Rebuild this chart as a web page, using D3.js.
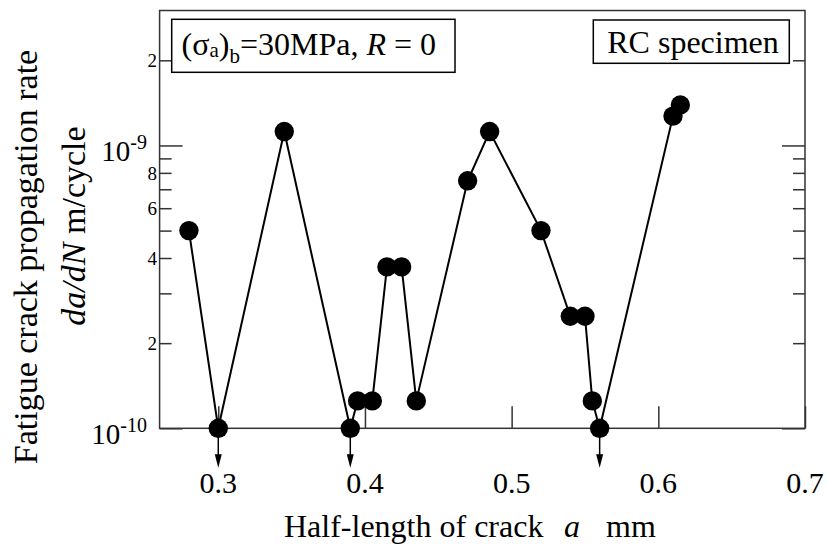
<!DOCTYPE html>
<html>
<head>
<meta charset="utf-8">
<script src="https://cdn.jsdelivr.net/npm/d3@7"></script>
<style>
  body { margin: 0; background: #fff; }
  svg text, svg tspan { font-family: "Liberation Serif", "Times New Roman", serif; }
</style>
</head>
<body>
<div class="chart"></div>
<script>
// crack half-length a (mm) and measured da/dN (m/cycle)
var crackLength = [0.280, 0.300, 0.345, 0.390, 0.395, 0.405, 0.415, 0.425, 0.435,
                   0.470, 0.485, 0.520, 0.540, 0.550, 0.555, 0.560, 0.610, 0.615];
var growthRate  = [5.0e-10, 1.0e-10, 1.12e-9, 1.0e-10, 1.25e-10, 1.25e-10, 3.72e-10, 3.72e-10, 1.25e-10,
                   7.5e-10, 1.12e-9, 5.0e-10, 2.49e-10, 2.49e-10, 1.25e-10, 1.0e-10, 1.27e-9, 1.39e-9];
// points that fell below the measurable rate (drawn with a down arrow)
var belowLimit  = [false, true, false, true, false, false, false, false, false,
                   false, false, false, false, false, false, true, false, false];

var xTicks = [0.3, 0.4, 0.5, 0.6, 0.7];
var xTickLabels = ["0.3", "0.4", "0.5", "0.6", "0.7"];
var yMajorTicks = [1e-10, 1e-9];
var yMajorExp = ["-10", "-9"];
var yMinorTicks = [2e-10, 3e-10, 4e-10, 5e-10, 6e-10, 7e-10, 8e-10, 9e-10, 2e-9];
var yMinorLabeled = [2e-10, 4e-10, 6e-10, 8e-10, 2e-9];
var yMinorLabels = ["2", "4", "6", "8", "2"];

var margin = {top: 10.5, right: 23, bottom: 115.7, left: 159.6};
var width = 828 - margin.left - margin.right;
var height = 544 - margin.top - margin.bottom;

var xScale = d3.scaleLinear().domain([0.26, 0.7]).range([0, width]);
var yScale = d3.scaleLog().domain([1e-10, 3e-9]).range([height, 0]);

var axisColor = "#333";
var serif = "Liberation Serif";

var svg = d3.select("div.chart").append("svg")
    .attr("width", 828)
    .attr("height", 544)
    .style("display", "block");

svg.append("rect").attr("width", 828).attr("height", 544).attr("fill", "#fff");

var g = svg.append("g")
    .attr("transform", "translate(" + margin.left + "," + margin.top + ")");

function styleAxis(sel){
  sel.select(".domain").remove();
  sel.selectAll(".tick line").attr("stroke", axisColor).attr("stroke-width", 1.5);
  sel.selectAll(".tick text").remove();
}

function drawAxes(){
  // bottom ticks, pointing inward
  g.append("g")
    .attr("transform", "translate(0," + height + ")")
    .call(d3.axisBottom(xScale).tickValues(xTicks).tickSize(-22))
    .call(styleAxis);

  // left + right major/minor ticks
  g.append("g").call(d3.axisLeft(yScale).tickValues(yMajorTicks).tickSize(-23)).call(styleAxis);
  g.append("g").call(d3.axisLeft(yScale).tickValues(yMinorTicks).tickSize(-12)).call(styleAxis);
  g.append("g").attr("transform", "translate(" + width + ",0)")
    .call(d3.axisRight(yScale).tickValues(yMajorTicks).tickSize(-23)).call(styleAxis);
  g.append("g").attr("transform", "translate(" + width + ",0)")
    .call(d3.axisRight(yScale).tickValues(yMinorTicks).tickSize(-12)).call(styleAxis);

  // frame
  g.append("rect")
    .attr("width", width).attr("height", height)
    .attr("fill", "none").attr("stroke", axisColor).attr("stroke-width", 1.5);

  // x labels
  g.selectAll(".xlab").data(xTicks).enter().append("text")
    .attr("class", "xlab")
    .attr("font-family", serif)
    .attr("x", function(d) { return xScale(d); })
    .attr("y", height + 64.7)
    .attr("text-anchor", "middle")
    .attr("font-size", 30)
    .text(function(d, i) { return xTickLabels[i]; });

  // y major labels 10^n
  var maj = g.selectAll(".ymaj").data(yMajorTicks).enter().append("text")
    .attr("class", "ymaj")
    .attr("font-family", serif)
    .attr("x", -12.6)
    .attr("y", function(d) { return yScale(d) + 15.5; })
    .attr("text-anchor", "end")
    .attr("font-size", 29);
  maj.append("tspan").text("10");
  maj.append("tspan").attr("font-size", 20).attr("dy", -12)
    .text(function(d, i) { return yMajorExp[i]; });

  // y minor labels
  g.selectAll(".ymin").data(yMinorLabeled).enter().append("text")
    .attr("class", "ymin")
    .attr("font-family", serif)
    .attr("x", -2.6)
    .attr("y", function(d) { return yScale(d) + 7; })
    .attr("text-anchor", "end")
    .attr("font-size", 19)
    .text(function(d, i) { return yMinorLabels[i]; });
}

function drawData(){
  var pts = crackLength.map(function(d, i) { return [d, growthRate[i], belowLimit[i]]; });

  var line = d3.line()
    .x(function(d) { return xScale(d[0]); })
    .y(function(d) { return yScale(d[1]); });

  g.append("path")
    .datum(pts)
    .attr("d", line)
    .attr("fill", "none")
    .attr("stroke", "#000")
    .attr("stroke-width", 2);

  // arrows below undetectable points
  var arr = g.selectAll(".arrow").data(pts.filter(function(d) { return d[2]; })).enter()
    .append("g").attr("class", "arrow")
    .attr("transform", function(d) { return "translate(" + xScale(d[0]) + "," + yScale(d[1]) + ")"; });
  arr.append("line").attr("y1", 0).attr("y2", 30)
    .attr("stroke", "#000").attr("stroke-width", 1.5);
  arr.append("path").attr("d", "M-3.5,26L3.5,26L0,39.5Z").attr("fill", "#000");

  g.selectAll(".dot").data(pts).enter().append("circle")
    .attr("class", "dot")
    .attr("cx", function(d) { return xScale(d[0]); })
    .attr("cy", function(d) { return yScale(d[1]); })
    .attr("r", 9.7)
    .attr("fill", "#000");
}

function drawLabels(){
  // x title
  var xt = svg.append("text").attr("font-family", serif).attr("y", 537).attr("font-size", 32);
  xt.append("tspan").attr("x", 284).text("Half-length of crack");
  xt.append("tspan").attr("x", 564).attr("font-style", "italic").text("a");
  xt.append("tspan").attr("x", 606).text("mm");

  // y title (two lines)
  svg.append("text")
    .attr("font-family", serif)
    .attr("transform", "translate(37,257) rotate(-90)")
    .attr("text-anchor", "middle")
    .attr("font-size", 34)
    .text("Fatigue crack propagation rate");
  var yt = svg.append("text")
    .attr("font-family", serif)
    .attr("transform", "translate(85,226) rotate(-90)")
    .attr("text-anchor", "middle")
    .attr("font-size", 34);
  yt.append("tspan").attr("font-style", "italic").text("da/dN");
  yt.append("tspan").text(" m/cycle");

  // condition box
  svg.append("rect").attr("x", 171.7).attr("y", 19.3).attr("width", 283.3).attr("height", 53)
    .attr("fill", "#fff").attr("stroke", "#000").attr("stroke-width", 1.5);
  var c = svg.append("text").attr("font-family", serif).attr("x", 181.5).attr("y", 55).attr("font-size", 32);
  c.append("tspan").text("(σ");
  c.append("tspan").attr("font-size", 21).attr("dy", 1.5).text("a");
  c.append("tspan").attr("dy", -1.5).text(")");
  c.append("tspan").attr("font-size", 21).attr("dy", 8).text("b");
  c.append("tspan").attr("dy", -8).text("=30MPa, ");
  c.append("tspan").attr("font-style", "italic").text("R");
  c.append("tspan").text(" = 0");

  // specimen box
  svg.append("rect").attr("x", 593.3).attr("y", 20).attr("width", 196).attr("height", 43.3)
    .attr("fill", "#fff").attr("stroke", "#000").attr("stroke-width", 1.5);
  svg.append("text").attr("font-family", serif).attr("x", 693).attr("y", 53.3).attr("text-anchor", "middle")
    .attr("font-size", 32).text("RC specimen");
}

drawAxes();
drawData();
drawLabels();
</script>
</body>
</html>
